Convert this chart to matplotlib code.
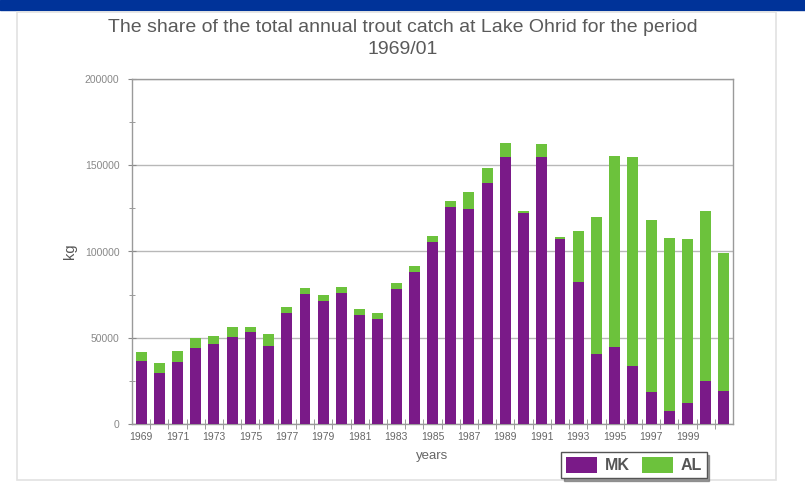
import numpy as np
import matplotlib
matplotlib.use('Agg')
import matplotlib.pyplot as plt
from matplotlib.patches import Rectangle

plt.rcParams['font.family'] = ['Liberation Sans', 'DejaVu Sans']

# catch per year (kg)
years = list(range(1969, 2002))
mk = [36700, 29400, 36100, 43900, 46200, 50600, 53500, 45000, 64200, 75400,
      71500, 76100, 63000, 61000, 78300, 87900, 105300, 125600, 124700, 139500,
      155000, 122100, 154600, 107100, 82100, 40600, 44800, 33800, 18400, 7500,
      12000, 25100, 19100]
total = [41900, 35200, 42300, 49700, 51200, 56400, 56400, 52200, 68000, 79000,
         74800, 79600, 66700, 64500, 81500, 91600, 109000, 129300, 134500, 148600,
         162700, 123700, 162100, 108600, 111900, 120200, 155400, 154600, 118300, 107600,
         107200, 123700, 99300]
al = [t - m for t, m in zip(total, mk)]
year_labels = [str(y) if (y - 1969) % 2 == 0 and y < 2001 else '' for y in years]

purple = '#7a1a88'
green = '#6cc23c'
grey = '#8a8a8a'

fig = plt.figure(figsize=(8.05, 4.86), dpi=100)

# blue band + outer frame of the slide
fig.patches.append(Rectangle((0, 1 - 10 / 486), 1, 10 / 486, transform=fig.transFigure,
                             color='#003399', zorder=0))
fig.patches.append(Rectangle((17 / 805, 6 / 486), (776 - 17) / 805, (474 - 6) / 486,
                             transform=fig.transFigure, fill=False, edgecolor='#e2e2e2',
                             lw=1.2, zorder=0))

ax = fig.add_axes([132 / 805, 62 / 486, (733 - 132) / 805, (424 - 79) / 486])
x = np.arange(len(years))
ax.bar(x, mk, width=0.6, color=purple, label='MK', zorder=3)
ax.bar(x, al, width=0.6, bottom=mk, color=green, label='AL', zorder=3)

ax.set_xlim(-0.5, len(years) - 0.5)
ax.set_ylim(0, 200000)
ax.set_yticks(np.arange(0, 200001, 50000))
ax.set_yticks(np.arange(25000, 200000, 50000), minor=True)
ax.yaxis.grid(True, color='#b8b8b8', lw=1.0, zorder=0)
ax.set_xticks(x)
ax.set_xticklabels(year_labels)
ax.set_xticks(x[:-1] + 0.5, minor=True)
ax.tick_params(axis='x', which='major', length=0, pad=6, labelsize=7.5, labelcolor='#666666')
ax.tick_params(axis='x', which='minor', length=7, direction='inout', color=grey)
ax.tick_params(axis='y', which='major', length=6, direction='inout', color=grey,
               labelsize=7.5, labelcolor='#888888', pad=6)
ax.tick_params(axis='y', which='minor', length=5, direction='inout', color=grey)
for s in ax.spines.values():
    s.set_color('#9a9a9a')
    s.set_linewidth(1.0)

ax.set_ylabel('kg', fontsize=10.5, color='#555555', labelpad=6)
ax.set_xlabel('years', fontsize=9.5, color='#666666')
ax.xaxis.set_label_coords(0.5, -0.075)

fig.text(0.5, 1 - 28 / 486, 'The share of the total annual trout catch at Lake Ohrid for the period',
         ha='center', va='center', fontsize=14, color='#5a5a5a')
fig.text(0.5, 1 - 49 / 486, '1969/01', ha='center', va='center', fontsize=14, color='#5a5a5a')

leg = fig.legend(loc='center', bbox_to_anchor=(634 / 805, 1 - 465 / 486), ncol=2,
                 fontsize=11.5, frameon=True, shadow=True, fancybox=False,
                 handlelength=1.9, handleheight=1.2, columnspacing=0.8, handletextpad=0.5,
                 borderpad=0.3)
leg.get_frame().set_edgecolor('#555555')
for t in leg.get_texts():
    t.set_fontweight('bold')
    t.set_color('#555555')

fig.savefig('out.png', dpi=100)
